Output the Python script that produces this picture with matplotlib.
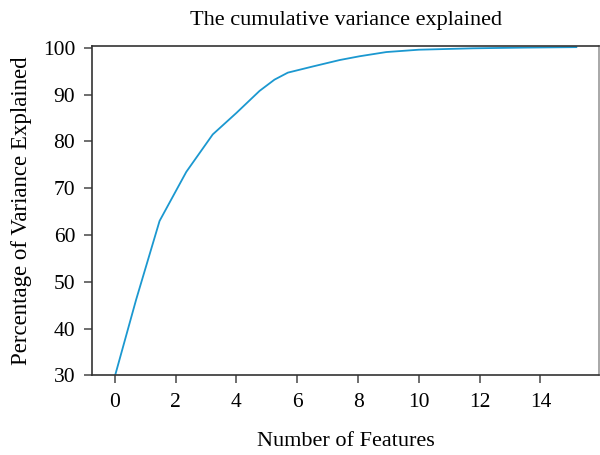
import matplotlib
matplotlib.use("Agg")
import matplotlib.pyplot as plt

# points
n_features = [0, 0.7, 1.47, 2.35, 3.22, 4.0, 4.76, 5.25, 5.69, 6.5, 7.4, 8.05, 8.93, 10.0, 11.78, 13.5, 15.18]
cum_variance = [29.8, 46.2, 63.0, 73.5, 81.5, 86.1, 90.8, 93.2, 94.7, 96.0, 97.4, 98.2, 99.1, 99.6, 99.9, 100.05, 100.15]

x_ticks = [0, 2, 4, 6, 8, 10, 12, 14]
y_ticks = [30, 40, 50, 60, 70, 80, 90, 100]

plt.rcParams['font.family'] = ['Liberation Serif', 'DejaVu Serif']

fig = plt.figure(figsize=(6, 4.55), dpi=100)
ax = fig.add_axes([0.153, 0.175, 0.846, 0.725])

ax.plot(n_features, cum_variance, color='#1b98d0', linewidth=1.3)

ax.set_xticks(x_ticks)
ax.set_yticks(y_ticks)
ax.set_ylim(30, 100.5)
ax.margins(x=0.05)

ax.tick_params(axis='both', labelsize=15.5, length=6, width=1.2, color='#555555')
ax.tick_params(axis='x', pad=7)
ax.tick_params(axis='y', pad=6)
for s in ax.spines.values():
    s.set_linewidth(1.2)
    s.set_color('#333333')
ax.spines['right'].set_color('#999999')

ax.set_title('The cumulative variance explained', fontsize=16, pad=15)
ax.set_xlabel('Number of Features', fontsize=16, labelpad=14)
ax.set_ylabel('Percentage of Variance Explained', fontsize=16.5, labelpad=8)

fig.savefig('out.png', dpi=100)
